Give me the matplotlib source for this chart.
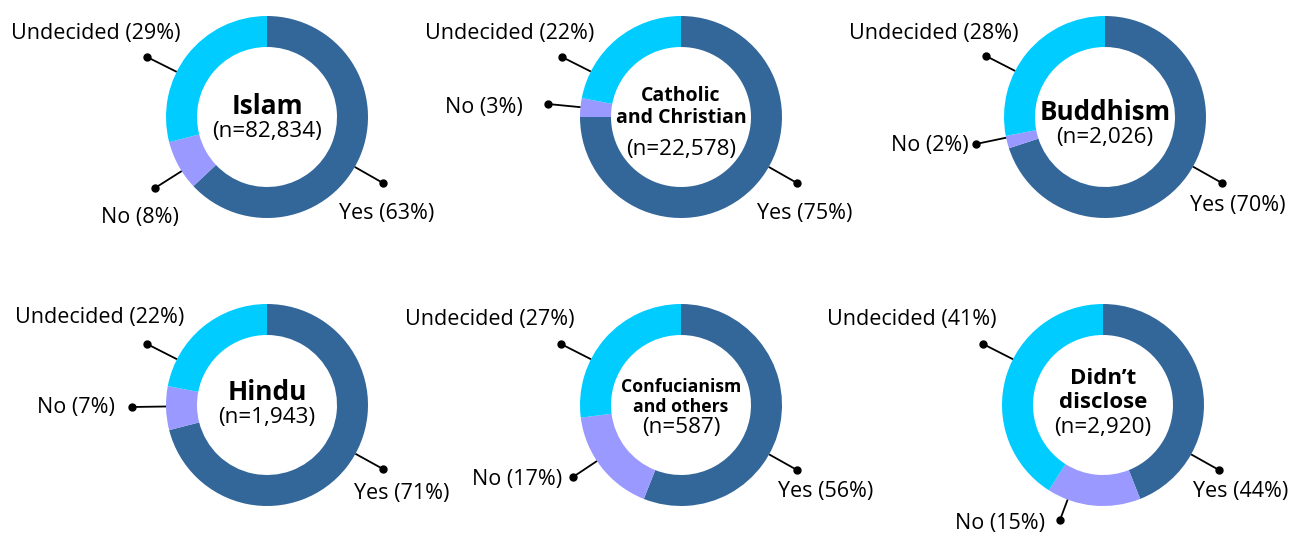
import matplotlib
matplotlib.use("Agg")
import matplotlib.pyplot as plt

plt.rcParams['font.family'] = ['Open Sans', 'DejaVu Sans']

# data
religions = ["Islam", "Catholic\nand Christian", "Buddhism",
             "Hindu", "Confucianism\nand others", "Didn\u2019t\ndisclose"]
sample_n = [82834, 22578, 2026, 1943, 587, 2920]
yes_pct = [63, 75, 70, 71, 56, 44]
no_pct = [8, 3, 2, 7, 17, 15]
undecided_pct = [29, 22, 28, 22, 27, 41]
answer_names = ["Yes", "No", "Undecided"]

colors = ["#336699", "#9999ff", "#00ccff"]

# layout (pixels, y down)
W, H = 1296, 536
centers = [(267, 117), (681, 117), (1105, 117),
           (267, 405), (681, 405), (1103, 405)]
r_out, ring = 101, 31
title_size = [19, 14, 18.7, 19, 12.7, 16]
title_y = [-11, -10, -5, -13, -8, -14]   # offset of title block centre
n_y = [15, 33, 21, 13, 22, 22]
title_gap = [0, 22, 0, 0, 20, 24]

# per chart: (dot dx, dy) and (text x, y, ha) for Yes / No / Undecided
dots = [
    [(116, 66), (-112, 71), (-120, -60)],
    [(116, 66), (-133, -13), (-119, -60)],
    [(117, 66), (-129, 27), (-119, -61)],
    [(116, 64), (-135, 2), (-120, -61)],
    [(116, 65), (-108, 72), (-120, -61)],
    [(116, 65), (-43, 115), (-120, -61)],
]
texts = [
    [(120, 97, 'center'), (-127, 100, 'center'), (-171, -84, 'center')],
    [(124, 96, 'center'), (-158, -10, 'right'), (-171, -84, 'center')],
    [(133, 89, 'center'), (-136, 29, 'right'), (-171, -84, 'center')],
    [(135, 89, 'center'), (-152, 2, 'right'), (-167, -87, 'center')],
    [(145, 86, 'center'), (-119, 75, 'right'), (-191, -85, 'center')],
    [(138, 87, 'center'), (-58, 118, 'right'), (-191, -85, 'center')],
]


def P(x, y):
    return x, H - y


fig = plt.figure(figsize=(W / 100, H / 100), dpi=100)
ax = fig.add_axes([0, 0, 1, 1])

for i, name in enumerate(religions):
    cx, cy = centers[i]
    vals = [yes_pct[i], no_pct[i], undecided_pct[i]]
    ax.pie(vals, colors=colors, startangle=90, counterclock=False,
           center=P(cx, cy), radius=r_out,
           wedgeprops=dict(width=ring, linewidth=0))

    # centre text
    lines = name.split("\n")
    for k, ln in enumerate(lines):
        yy = cy + title_y[i] + (k - (len(lines) - 1) / 2) * title_gap[i]
        ax.text(*P(cx, yy), ln, ha='center', va='center',
                fontsize=title_size[i], fontweight='bold', color='black')
    ax.text(*P(cx, cy + n_y[i]), "(n={:,})".format(sample_n[i]),
            ha='center', va='center', fontsize=16.2, color='black')

    # leader lines and labels
    for j, ans in enumerate(answer_names):
        dx, dy = dots[i][j]
        d = (dx ** 2 + dy ** 2) ** 0.5
        sx, sy = dx * r_out / d, dy * r_out / d
        ax.plot([P(cx + sx, cy + sy)[0], P(cx + dx, cy + dy)[0]],
                [P(cx + sx, cy + sy)[1], P(cx + dx, cy + dy)[1]],
                color='black', lw=1.3, solid_capstyle='butt')
        ax.plot(*P(cx + dx, cy + dy), 'o', color='black', ms=5)
        tx, ty, ha = texts[i][j]
        ax.text(*P(cx + tx, cy + ty), "{} ({}%)".format(ans, vals[j]),
                ha=ha, va='center', fontsize=15.5, color='black')

ax.set_xlim(0, W)
ax.set_ylim(0, H)
ax.set_aspect('auto')
ax.axis('off')

fig.savefig("out.png", dpi=100, facecolor='white')
